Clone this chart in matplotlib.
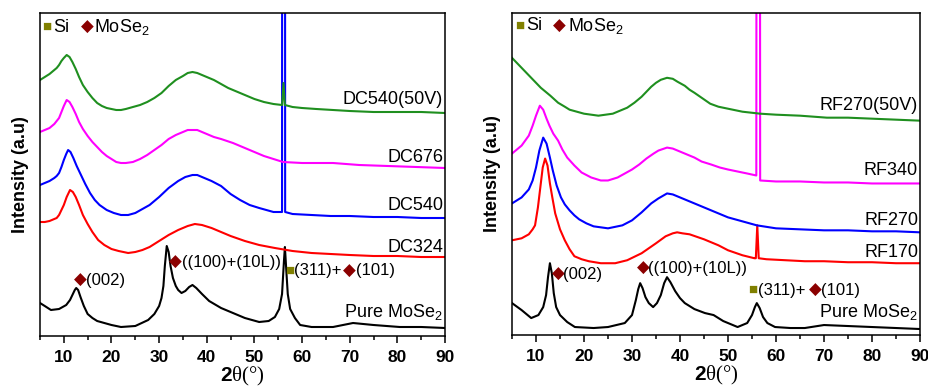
import matplotlib
matplotlib.use('Agg')
from matplotlib import pyplot as plt
from matplotlib.ticker import MultipleLocator

plt.rcParams['font.family'] = ['Liberation Sans', 'DejaVu Sans']
plt.rcParams['mathtext.fontset'] = 'custom'
plt.rcParams['mathtext.sf'] = 'Liberation Sans'
plt.rcParams['mathtext.rm'] = 'Liberation Serif'
plt.rcParams['mathtext.bf'] = 'Liberation Sans:bold'

# (2theta, intensity a.u.), DC sputtered films (left panel)
dc_pure = [(5, 33), (6, 30), (7.3, 26), (9, 27), (10.5, 31), (11.3, 36), (11.9, 42), (12.3, 46), (12.6, 48),
           (13, 46), (13.5, 39), (14.2, 30), (15, 22), (16, 18), (17, 15), (20, 11), (22, 9), (25, 10),
           (27.7, 16), (29, 22), (30, 30), (30.5, 38), (30.9, 50), (31.2, 70), (31.6, 90), (32, 84),
           (32.4, 70), (32.9, 58), (33.5, 50), (34, 46), (34.7, 43), (35.5, 45), (36.3, 49), (37, 51),
           (37.8, 48), (39, 42), (40.5, 35), (43, 28), (45.5, 23), (48, 18), (51, 14), (53, 15), (54.3, 19),
           (55.2, 27), (55.8, 42), (56.2, 75), (56.4, 89), (56.7, 65), (57, 42), (57.5, 27), (58.5, 18),
           (59.6, 11), (62, 9), (66.5, 9), (70.7, 13), (75, 11), (80.5, 9), (85, 9), (90, 8)]

dc324 = [(5, 114), (6, 114), (7, 115), (8, 117), (8.5, 118), (9, 121), (9.5, 126), (10, 131), (10.6, 139),
         (11.3, 146), (11.9, 144), (12.5, 139), (13.2, 131), (14, 121), (15, 112), (16, 104), (17.2, 96),
         (18.5, 91), (20, 87), (21.5, 85), (23.5, 83), (25, 84), (26.5, 86), (28, 89), (30, 95), (32, 101),
         (34, 106), (36, 110), (37.5, 112), (39, 111), (41, 108), (43, 104), (45, 100), (48, 95), (51, 91),
         (54.3, 88), (58, 85), (62, 83), (66, 82), (70, 81), (75, 80), (80, 80), (85, 79), (90, 79)]

dc540 = [(5, 151), (6, 153), (7, 155), (8, 158), (8.5, 160), (9, 163), (9.5, 169), (10, 176), (10.5, 182),
         (10.9, 186), (11.4, 184), (12, 178), (12.7, 170), (13.5, 162), (14.5, 152), (15.5, 143), (16.5, 136),
         (17.5, 131), (19, 126), (20.5, 123), (22, 121), (23.5, 121), (25, 123), (26.5, 127), (28, 131),
         (30, 139), (32, 148), (34, 155), (35.5, 159), (37, 161), (38, 161), (39, 159), (41, 155), (43, 150),
         (45, 142), (47, 136), (49, 131), (51, 128), (54, 124), (55.8, 124), (55.85, 1000), (56.4, 1000),
         (56.45, 124), (58, 122), (62, 121), (66, 120), (70, 120), (75, 119), (80, 119), (85, 118), (90, 118)]

dc676 = [(5, 204), (6, 206), (7, 208), (8, 212), (8.5, 215), (9, 218), (9.5, 224), (10, 230), (10.6, 236),
         (11.2, 234), (11.8, 229), (12.5, 222), (13.2, 214), (14, 207), (15, 200), (16, 194), (17, 189),
         (18, 184), (19, 180), (20, 177), (21, 174), (22, 173), (23, 173), (24.5, 174), (26, 177), (27.5, 181),
         (29, 186), (30.5, 191), (32, 197), (33.5, 201), (35, 204), (36, 206), (37, 206), (38, 206), (39, 204),
         (40, 202), (41.5, 199), (43, 197), (45.5, 193), (48, 188), (50, 184), (52, 180), (54, 177), (56, 174),
         (60, 173), (66.5, 173), (72, 171), (78, 170), (84, 169), (90, 168)]

dc540_50v = [(5, 256), (6, 259), (7, 262), (8, 266), (8.5, 268), (9, 271), (9.5, 275), (10, 278), (10.6, 281),
             (11.2, 279), (11.8, 274), (12.5, 267), (13.2, 259), (14, 251), (15, 244), (16, 238), (17, 233),
             (18, 230), (19, 228), (20, 227), (21, 226), (22, 226), (23, 227), (24.5, 229), (26, 231),
             (27.5, 234), (29, 238), (30.5, 243), (32, 250), (33.5, 256), (35, 260), (36, 263), (37, 264),
             (38, 263), (39, 261), (40, 259), (41.5, 256), (43, 252), (44.5, 248), (46, 245), (48, 241),
             (50, 237), (52, 234), (54, 232), (55.8, 231), (56.1, 253), (56.4, 231), (58, 229), (60, 228),
             (63, 227), (66.5, 226), (70, 225), (75, 224), (80, 224), (85, 224), (90, 223)]

# RF sputtered films (right panel)
rf_pure = [(5, 32), (7, 25), (9, 17), (10.5, 20), (11.5, 28), (12.1, 40), (12.5, 58), (12.9, 72), (13.3, 62),
           (13.7, 42), (14.2, 28), (15, 20), (16.5, 13), (18.1, 8), (22, 7), (25, 8), (28.5, 12), (30, 20),
           (30.8, 35), (31.3, 46), (31.7, 52), (32.2, 47), (32.8, 38), (33.5, 32), (34.4, 28), (35.2, 32),
           (36, 40), (36.7, 52), (37.3, 58), (38, 53), (39, 44), (40, 37), (41, 32), (43, 26), (45.2, 22),
           (47, 20), (49, 14), (52, 8), (54, 12), (55, 20), (55.6, 28), (56, 32), (56.6, 27), (57.3, 18),
           (58.2, 12), (59.8, 8), (63, 7), (66, 7), (70, 10), (75, 9), (80, 8), (85, 7), (90, 6)]

rf170 = [(5, 95), (7, 97), (8.5, 101), (9.3, 106), (9.8, 110), (10.4, 128), (10.9, 148), (11.4, 168),
         (11.9, 177), (12.4, 170), (12.9, 152), (13.4, 138), (14, 122), (15, 106), (16, 95), (17, 86), (18, 79),
         (19.5, 76), (21, 74), (23.5, 72), (26.5, 72), (29, 75), (32, 82), (35, 92), (37, 99), (38.5, 102),
         (39.4, 103), (40.5, 102), (42, 101), (45, 96), (48, 90), (50, 85), (53, 80), (55.5, 77), (55.8, 77),
         (56.1, 110), (56.4, 77), (58, 76), (62, 75), (66, 74), (70, 74), (75, 73), (80, 73), (85, 72), (90, 72)]

rf270 = [(5, 132), (7, 138), (8.5, 146), (9.3, 155), (10, 168), (10.7, 185), (11.5, 198), (12.2, 192),
         (12.9, 178), (13.5, 165), (14.3, 150), (15.2, 138), (16, 131), (17, 125), (18, 120), (19, 116),
         (20.5, 112), (22, 109), (25, 107), (28, 110), (30, 115), (32, 123), (34, 132), (35.5, 137), (37.3, 142),
         (38.5, 141), (40, 138), (42, 134), (44, 130), (47, 124), (50, 118), (53, 114), (56, 110), (60, 107),
         (65, 106), (70, 105), (75, 105), (80, 104), (85, 104), (90, 103)]

rf340 = [(5, 182), (7, 190), (8.5, 200), (9.3, 210), (10, 220), (10.8, 230), (11.5, 226), (12.2, 217),
         (12.8, 210), (13.6, 202), (14.6, 195), (15.5, 186), (16.5, 178), (18, 170), (19.5, 163), (21.5, 158),
         (23.5, 155), (25, 155), (27, 158), (28.5, 162), (30, 166), (31.5, 171), (33, 177), (34.5, 182),
         (35.5, 185), (37.3, 188), (38.5, 187), (40, 184), (41, 182), (43, 178), (44.5, 174), (46.5, 171),
         (48.3, 168), (50, 166), (52, 164), (54, 162), (55.9, 160), (56.0, 1000), (56.6, 1000), (56.7, 155),
         (60, 154), (65, 154), (70, 153), (75, 153), (80, 152), (85, 152), (90, 152)]

rf270_50v = [(5, 278), (6, 273), (7, 268), (8, 263), (9, 258), (10, 253), (11, 248), (12, 244), (13, 240),
             (14.6, 233), (16, 229), (17, 226), (18.5, 224), (20, 222), (21.5, 221), (23, 220), (24.5, 221),
             (26, 222), (27.5, 225), (29, 228), (30.5, 233), (32, 239), (33, 244), (34, 249), (35, 253),
             (36, 256), (37.3, 258), (38.5, 257), (39.5, 254), (41, 250), (42, 246), (43, 243), (44.5, 238),
             (46.3, 232), (48, 229), (50, 227), (53, 224), (56.7, 222), (60, 221), (65, 220), (70.6, 218),
             (75, 218), (80, 217), (85, 216), (90, 215)]

dc_labels = ['Pure MoSe$_\\mathsf{2}$', 'DC324', 'DC540', 'DC676', 'DC540(50V)']
rf_labels = ['Pure MoSe$_\\mathsf{2}$', 'RF170', 'RF270', 'RF340', 'RF270(50V)']
dc_label_y = [24, 89, 131, 179, 236]
rf_label_y = [23, 83, 115, 165, 230]

colors = ['black', '#ff0000', '#0000ff', '#ff00ff', '#1f8f1f']

DIAMOND = '#8b0000'
SQUARE = '#808000'


def setup_axes(ax):
    ax.set_xlim(5, 90)
    ax.set_ylim(0, 323)
    ax.set_yticks([])
    ax.xaxis.set_minor_locator(MultipleLocator(5))
    ax.set_xticks([10, 20, 30, 40, 50, 60, 70, 80, 90])
    ax.set_xticklabels(['10', '20', '30', '40', '50', '60', '70', '80', '90'], fontweight='bold')
    ax.tick_params(axis='x', which='major', direction='out', length=5, width=1.1, labelsize=12.5, pad=5)
    ax.tick_params(axis='x', which='minor', direction='out', length=3, width=1.1)
    for s in ax.spines.values():
        s.set_linewidth(1.1)
    ax.set_xlabel('$\\mathbf{2}\\mathrm{\\theta(°)}$', fontsize=15, labelpad=0)
    ax.set_ylabel('Intensity (a.u)', fontsize=13, fontweight='bold', labelpad=8)


def legend_marks(ax, sq_x, si_x, dia_x, mo_x, y):
    ax.text(sq_x, y, '■', color=SQUARE, fontsize=11, ha='center', va='center')
    ax.text(si_x, y, 'Si', fontsize=13, ha='left', va='center')
    ax.text(dia_x, y, '◆', color=DIAMOND, fontsize=12, ha='center', va='center')
    ax.text(mo_x, y, 'MoSe$_\\mathsf{2}$', fontsize=13, ha='left', va='center')


def peak_notes(ax, d1, t1, y1, d2, t2, y2, s3, t3, d3, t4, y3):
    ax.text(d1, y1, '◆', color=DIAMOND, fontsize=12, ha='center', va='center')
    ax.text(t1, y1, '(002)', fontsize=12, ha='left', va='center')
    ax.text(d2, y2, '◆', color=DIAMOND, fontsize=12, ha='center', va='center')
    ax.text(t2, y2, '((100)+(10L))', fontsize=12, ha='left', va='center')
    ax.text(s3, y3, '■', color=SQUARE, fontsize=11, ha='center', va='center')
    ax.text(t3, y3, '(311)+', fontsize=12, ha='left', va='center')
    ax.text(d3, y3, '◆', color=DIAMOND, fontsize=12, ha='center', va='center')
    ax.text(t4, y3, '(101)', fontsize=12, ha='left', va='center')


fig = plt.figure(figsize=(9.29, 3.87), dpi=100)
ax1 = fig.add_axes([40/929, 51/387, 405/929, 323/387])
ax2 = fig.add_axes([512/929, 52/387, 408/929, 322/387])

for pts, c in zip([dc_pure, dc324, dc540, dc676, dc540_50v], colors):
    x, y = zip(*pts)
    ax1.plot(x, y, color=c, lw=1.5)
for pts, c in zip([rf_pure, rf170, rf270, rf340, rf270_50v], colors):
    x, y = zip(*pts)
    ax2.plot(x, y, color=c, lw=1.5)

for lab, yy in zip(dc_labels, dc_label_y):
    ax1.text(89.6, yy, lab, fontsize=13, ha='right', va='center')
for lab, yy in zip(rf_labels, rf_label_y):
    ax2.text(89.6, yy, lab, fontsize=13, ha='right', va='center')

setup_axes(ax1)
setup_axes(ax2)

legend_marks(ax1, 6.4, 7.8, 14.9, 16.4, 309)
legend_marks(ax2, 6.7, 7.9, 14.8, 16.6, 310)

peak_notes(ax1, 13.4, 14.6, 56, 33.5, 34.7, 74, 57.5, 58.4, 70.0, 71.4, 65)
peak_notes(ax2, 14.6, 15.7, 61, 32.3, 33.4, 67, 55.2, 56.2, 68.1, 69.4, 45)

fig.savefig('out.png', dpi=100)
